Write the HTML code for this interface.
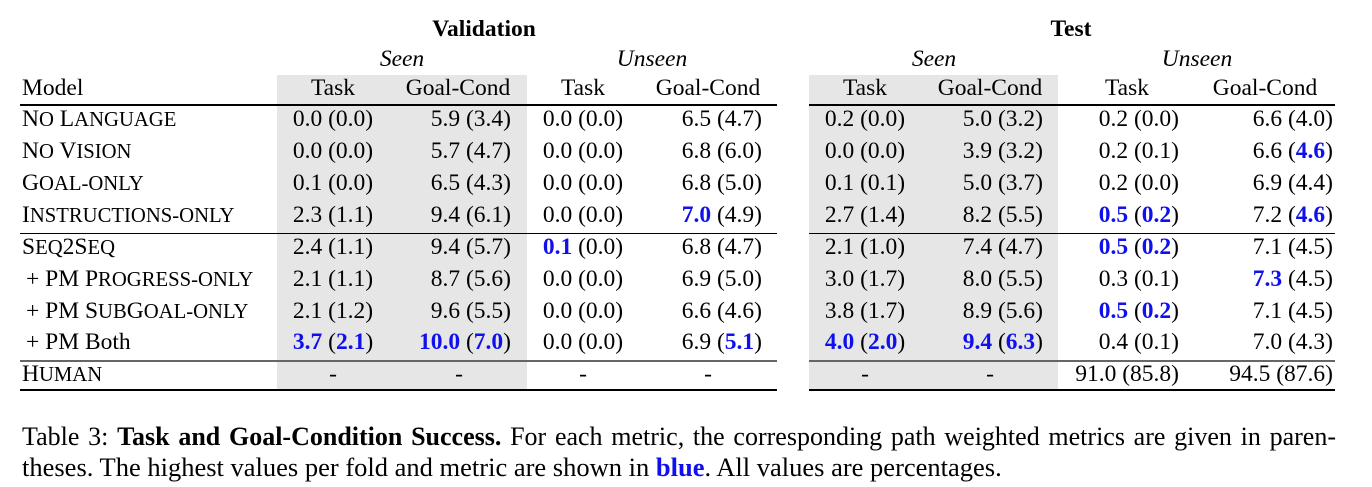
<!DOCTYPE html>
<html><head><meta charset="utf-8"><style>
body{margin:0;width:1372px;height:487px;background:#fff;position:relative;overflow:hidden;font-family:"Liberation Serif",serif;color:#000}
div{position:absolute;white-space:nowrap}
.t{font-size:23.5px;height:28px;line-height:28px}
.c{width:200px;text-align:center}
.r{width:200px;text-align:right}
s{text-decoration:none;font-size:0.88em}
.g{background:#e6e6e6}
.b{color:#1010ee;font-weight:bold}
.l{background:#000}
</style></head><body>
<div class="g" style="left:277px;top:75px;width:250px;height:315px"></div>
<div class="g" style="left:809px;top:75px;width:249px;height:315px"></div>

<div class="t c" style="left:384px;top:15px;font-weight:bold">Validation</div>
<div class="t c" style="left:971px;top:15px;font-weight:bold">Test</div>
<div class="t c" style="left:302px;top:45px;font-style:italic">Seen</div>
<div class="t c" style="left:552px;top:45px;font-style:italic">Unseen</div>
<div class="t c" style="left:834px;top:45px;font-style:italic">Seen</div>
<div class="t c" style="left:1097px;top:45px;font-style:italic">Unseen</div>

<div class="t" style="left:22px;top:74px">Model</div>
<div class="t c" style="left:233px;top:74px">Task</div>
<div class="t c" style="left:358px;top:74px">Goal-Cond</div>
<div class="t c" style="left:483px;top:74px">Task</div>
<div class="t c" style="left:608px;top:74px">Goal-Cond</div>
<div class="t c" style="left:765px;top:74px">Task</div>
<div class="t c" style="left:890px;top:74px">Goal-Cond</div>
<div class="t c" style="left:1027px;top:74px">Task</div>
<div class="t c" style="left:1165px;top:74px">Goal-Cond</div>

<div class="l" style="left:20px;top:104px;width:757px;height:2px"></div>
<div class="l" style="left:809px;top:104px;width:526px;height:2px"></div>
<div class="l" style="left:20px;top:233px;width:757px;height:1px"></div>
<div class="l" style="left:809px;top:233px;width:526px;height:1px"></div>
<div style="left:20px;top:360px;width:757px;height:2px;background:#666"></div>
<div style="left:809px;top:360px;width:526px;height:2px;background:#666"></div>
<div class="l" style="left:20px;top:389px;width:757px;height:2px"></div>
<div class="l" style="left:809px;top:389px;width:526px;height:2px"></div>

<div class="t" style="left:22px;top:105px">N<s>O</s> L<s>ANGUAGE</s></div>
<div class="t" style="left:22px;top:137px">N<s>O</s> V<s>ISION</s></div>
<div class="t" style="left:22px;top:169px">G<s>OAL-ONLY</s></div>
<div class="t" style="left:22px;top:201px">I<s>NSTRUCTIONS-ONLY</s></div>
<div class="t" style="left:22px;top:233px">S<s>EQ</s>2S<s>EQ</s></div>
<div class="t" style="left:26px;top:265px">+ PM P<s>ROGRESS-ONLY</s></div>
<div class="t" style="left:26px;top:297px">+ PM S<s>UB</s>G<s>OAL-ONLY</s></div>
<div class="t" style="left:26px;top:328px">+ PM Both</div>
<div class="t" style="left:22px;top:360px">H<s>UMAN</s></div>

<div class="t c" style="left:233px;top:105px">0.0 (0.0)</div>
<div class="t r" style="left:311px;top:105px">5.9 (3.4)</div>
<div class="t c" style="left:483px;top:105px">0.0 (0.0)</div>
<div class="t r" style="left:562px;top:105px">6.5 (4.7)</div>
<div class="t c" style="left:765px;top:105px">0.2 (0.0)</div>
<div class="t r" style="left:843px;top:105px">5.0 (3.2)</div>
<div class="t r" style="left:979px;top:105px">0.2 (0.0)</div>
<div class="t r" style="left:1133px;top:105px">6.6 (4.0)</div>

<div class="t c" style="left:233px;top:137px">0.0 (0.0)</div>
<div class="t r" style="left:311px;top:137px">5.7 (4.7)</div>
<div class="t c" style="left:483px;top:137px">0.0 (0.0)</div>
<div class="t r" style="left:562px;top:137px">6.8 (6.0)</div>
<div class="t c" style="left:765px;top:137px">0.0 (0.0)</div>
<div class="t r" style="left:843px;top:137px">3.9 (3.2)</div>
<div class="t r" style="left:979px;top:137px">0.2 (0.1)</div>
<div class="t r" style="left:1133px;top:137px">6.6 (<span class="b">4.6</span>)</div>

<div class="t c" style="left:233px;top:169px">0.1 (0.0)</div>
<div class="t r" style="left:311px;top:169px">6.5 (4.3)</div>
<div class="t c" style="left:483px;top:169px">0.0 (0.0)</div>
<div class="t r" style="left:562px;top:169px">6.8 (5.0)</div>
<div class="t c" style="left:765px;top:169px">0.1 (0.1)</div>
<div class="t r" style="left:843px;top:169px">5.0 (3.7)</div>
<div class="t r" style="left:979px;top:169px">0.2 (0.0)</div>
<div class="t r" style="left:1133px;top:169px">6.9 (4.4)</div>

<div class="t c" style="left:233px;top:201px">2.3 (1.1)</div>
<div class="t r" style="left:311px;top:201px">9.4 (6.1)</div>
<div class="t c" style="left:483px;top:201px">0.0 (0.0)</div>
<div class="t r" style="left:562px;top:201px"><span class="b">7.0</span> (4.9)</div>
<div class="t c" style="left:765px;top:201px">2.7 (1.4)</div>
<div class="t r" style="left:843px;top:201px">8.2 (5.5)</div>
<div class="t r" style="left:979px;top:201px"><span class="b">0.5</span> (<span class="b">0.2</span>)</div>
<div class="t r" style="left:1133px;top:201px">7.2 (<span class="b">4.6</span>)</div>

<div class="t c" style="left:233px;top:233px">2.4 (1.1)</div>
<div class="t r" style="left:311px;top:233px">9.4 (5.7)</div>
<div class="t c" style="left:483px;top:233px"><span class="b">0.1</span> (0.0)</div>
<div class="t r" style="left:562px;top:233px">6.8 (4.7)</div>
<div class="t c" style="left:765px;top:233px">2.1 (1.0)</div>
<div class="t r" style="left:843px;top:233px">7.4 (4.7)</div>
<div class="t r" style="left:979px;top:233px"><span class="b">0.5</span> (<span class="b">0.2</span>)</div>
<div class="t r" style="left:1133px;top:233px">7.1 (4.5)</div>

<div class="t c" style="left:233px;top:265px">2.1 (1.1)</div>
<div class="t r" style="left:311px;top:265px">8.7 (5.6)</div>
<div class="t c" style="left:483px;top:265px">0.0 (0.0)</div>
<div class="t r" style="left:562px;top:265px">6.9 (5.0)</div>
<div class="t c" style="left:765px;top:265px">3.0 (1.7)</div>
<div class="t r" style="left:843px;top:265px">8.0 (5.5)</div>
<div class="t r" style="left:979px;top:265px">0.3 (0.1)</div>
<div class="t r" style="left:1133px;top:265px"><span class="b">7.3</span> (4.5)</div>

<div class="t c" style="left:233px;top:297px">2.1 (1.2)</div>
<div class="t r" style="left:311px;top:297px">9.6 (5.5)</div>
<div class="t c" style="left:483px;top:297px">0.0 (0.0)</div>
<div class="t r" style="left:562px;top:297px">6.6 (4.6)</div>
<div class="t c" style="left:765px;top:297px">3.8 (1.7)</div>
<div class="t r" style="left:843px;top:297px">8.9 (5.6)</div>
<div class="t r" style="left:979px;top:297px"><span class="b">0.5</span> (<span class="b">0.2</span>)</div>
<div class="t r" style="left:1133px;top:297px">7.1 (4.5)</div>

<div class="t c" style="left:233px;top:328px"><span class="b">3.7</span> (<span class="b">2.1</span>)</div>
<div class="t r" style="left:311px;top:328px"><span class="b">10.0</span> (<span class="b">7.0</span>)</div>
<div class="t c" style="left:483px;top:328px">0.0 (0.0)</div>
<div class="t r" style="left:562px;top:328px">6.9 (<span class="b">5.1</span>)</div>
<div class="t c" style="left:765px;top:328px"><span class="b">4.0</span> (<span class="b">2.0</span>)</div>
<div class="t r" style="left:843px;top:328px"><span class="b">9.4</span> (<span class="b">6.3</span>)</div>
<div class="t r" style="left:979px;top:328px">0.4 (0.1)</div>
<div class="t r" style="left:1133px;top:328px">7.0 (4.3)</div>

<div class="t c" style="left:233px;top:360px">-</div>
<div class="t c" style="left:359px;top:360px">-</div>
<div class="t c" style="left:483px;top:360px">-</div>
<div class="t c" style="left:608px;top:360px">-</div>
<div class="t c" style="left:765px;top:360px">-</div>
<div class="t c" style="left:890px;top:360px">-</div>
<div class="t r" style="left:979px;top:360px">91.0 (85.8)</div>
<div class="t r" style="left:1133px;top:360px">94.5 (87.6)</div>

<div style="left:22px;top:422px;width:1314px;font-size:26px;line-height:30px;white-space:normal;text-align:justify;text-align-last:justify">Table 3: <b>Task and Goal-Condition Success.</b> For each metric, the corresponding path weighted metrics are given in paren-</div>
<div style="left:22px;top:452px;font-size:26.5px;line-height:30px">theses. The highest values per fold and metric are shown in <b style="color:#1010ee">blue</b>. All values are percentages.</div>
</body></html>
